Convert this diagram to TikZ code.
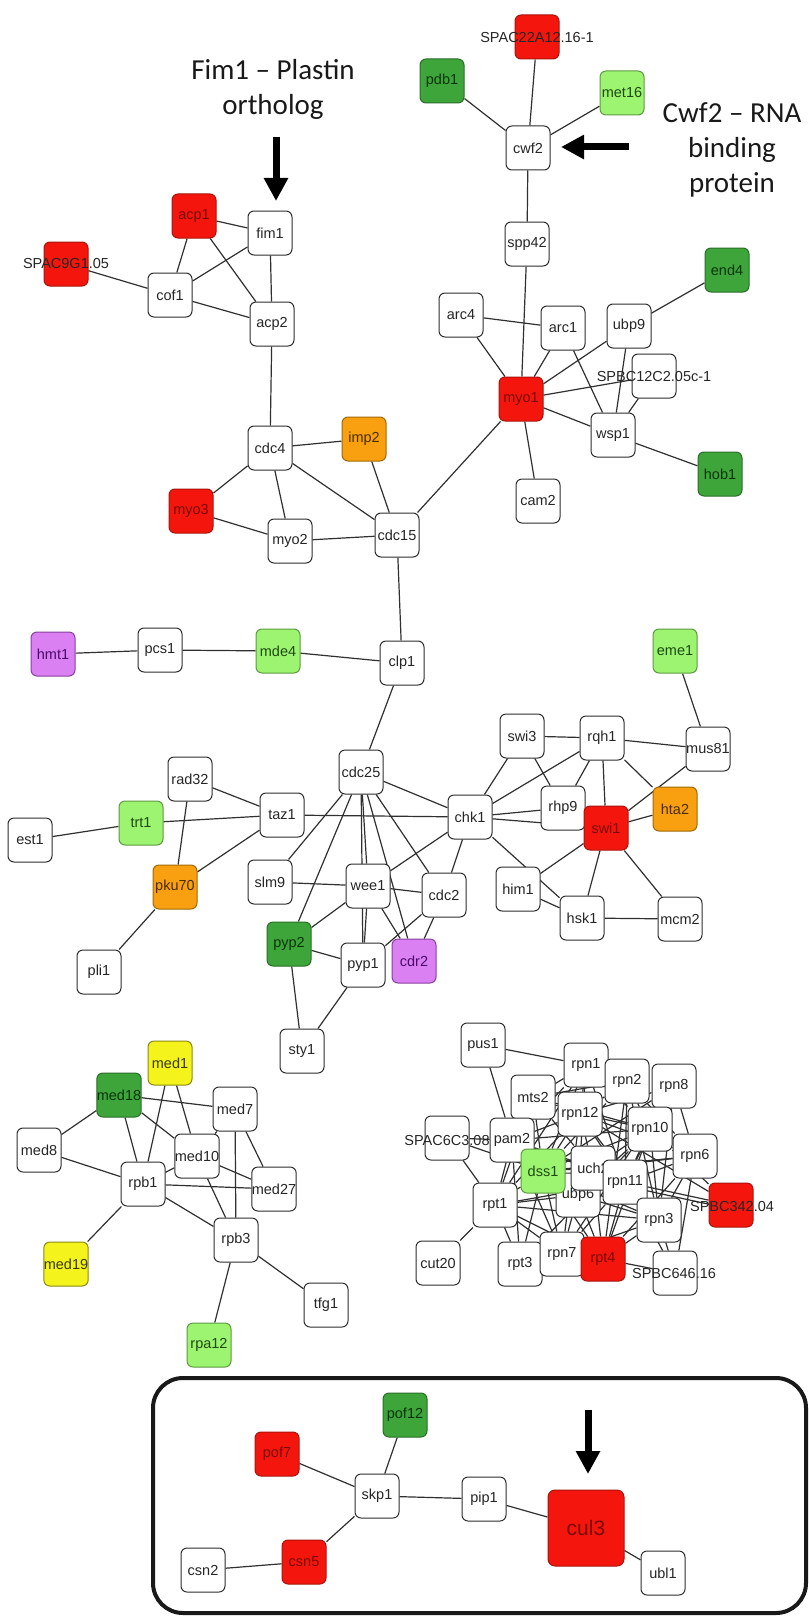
\documentclass[tikz,border=0pt]{standalone}
\usepackage{fontspec}
\setmainfont{Liberation Sans}
\newfontfamily\annfont{Carlito}
\usetikzlibrary{arrows.meta}
\pgfdeclarelayer{bgzero}
\pgfdeclarelayer{edgelayer}
\pgfsetlayers{bgzero,edgelayer,main}
\definecolor{ndline}{HTML}{2E2E2E}
\definecolor{edgec}{HTML}{303030}
\definecolor{cR}{HTML}{F4160C}
\definecolor{cRd}{HTML}{A8140C}
\definecolor{cRt}{HTML}{7A0A05}
\definecolor{cDG}{HTML}{3DA53A}
\definecolor{cDGd}{HTML}{2B6E29}
\definecolor{cDGt}{HTML}{0C340B}
\definecolor{cLG}{HTML}{9CF470}
\definecolor{cLGd}{HTML}{5E9A40}
\definecolor{cLGt}{HTML}{1F4A12}
\definecolor{cOR}{HTML}{F8A010}
\definecolor{cORd}{HTML}{A06A08}
\definecolor{cORt}{HTML}{4A2C00}
\definecolor{cPU}{HTML}{DA80F2}
\definecolor{cPUd}{HTML}{8A40A0}
\definecolor{cPUt}{HTML}{4A0A6A}
\definecolor{cYE}{HTML}{F4F41C}
\definecolor{cYEd}{HTML}{8A8A12}
\definecolor{cYEt}{HTML}{3A3A00}
\newcommand\nlab{\fontsize{14.5}{16}\selectfont}
\newcommand\annsz{\annfont\fontsize{29}{35}\selectfont}
\tikzset{
  base/.style={draw=ndline, rounded corners=6pt, minimum width=44pt, minimum height=44pt,
    inner sep=0pt, font=\nlab, line width=1pt, fill=white, text=black!85},
  wn/.style={base},
  rn/.style={base, fill=cR, draw=cRd, text=cRt},
  dg/.style={base, fill=cDG, draw=cDGd, text=cDGt},
  lg/.style={base, fill=cLG, draw=cLGd, text=cLGt},
  orn/.style={base, fill=cOR, draw=cORd, text=cORt},
  pu/.style={base, fill=cPU, draw=cPUd, text=cPUt},
  ye/.style={base, fill=cYE, draw=cYEd, text=cYEt},
  lab/.style={font=\nlab, text=black!85, inner sep=0pt},
  ed/.style={draw=edgec, line width=1.2pt},
  ann/.style={font=\annsz, align=center, text=black!90, inner sep=0pt},
  bigarrow/.style={line width=7pt, -{Triangle[width=23pt,length=23pt]}, black},
  boxline/.style={draw=black!90, line width=4pt, rounded corners=30pt}
}
\begin{document}
\begin{tikzpicture}[x=1pt,y=-1pt]
\begin{pgfonlayer}{bgzero}
\fill[white] (0,0) rectangle (808,1624);
\end{pgfonlayer}
\useasboundingbox (0,0) rectangle (808,1624);

% ---- annotations ----
\node[ann] (fimtxt) at (273,89) {Fim1 – Plastin\\ortholog};
\node[ann] (cwftxt) at (732,150) {Cwf2 – RNA\\binding\\protein};
\coordinate (fa1) at (276,137); \coordinate (fa2) at (276,201);
\draw[bigarrow] (fa1) -- (fa2);
\coordinate (ca1) at (629,147); \coordinate (ca2) at (561,147);
\draw[bigarrow] (ca1) -- (ca2);

% ---- top-left cluster ----
\node[rn] (acp1) at (194,216) {acp1};
\node[wn] (fim1) at (270,233) {fim1};
\node[rn] (spac9) at (66,264) {};
\node[lab] (spac9l) at (66,264) {SPAC9G1.05};
\node[wn] (cof1) at (170,295) {cof1};
\node[wn] (acp2) at (272,324) {acp2};
\node[wn] (cdc4) at (270,448) {cdc4};
\node[orn] (imp2) at (364,439) {imp2};
\node[rn] (myo3) at (191,511) {myo3};
\node[wn] (myo2) at (290,541) {myo2};
\node[wn] (cdc15) at (397,535) {cdc15};

% ---- top-right cluster ----
\node[rn] (spac22) at (537,37) {};
\node[lab] (spac22l) at (537,38) {SPAC22A12.16-1};
\node[dg] (pdb1) at (442,81) {pdb1};
\node[lg] (met16) at (622,93) {met16};
\node[wn] (cwf2) at (528,148) {cwf2};
\node[wn] (spp42) at (527,244) {spp42};
\node[dg] (end4) at (727,270) {end4};
\node[wn] (arc4) at (461,315) {arc4};
\node[wn] (arc1) at (563,328) {arc1};
\node[wn] (ubp9) at (629,326) {ubp9};
\node[wn] (spbc12) at (654,376) {};
\node[lab] (spbc12l) at (654,377) {SPBC12C2.05c-1};
\node[rn] (myo1) at (521,399) {myo1};
\node[wn] (wsp1) at (613,435) {wsp1};
\node[dg] (hob1) at (720,474) {hob1};
\node[wn] (cam2) at (538,501) {cam2};

% ---- middle ----
\node[wn] (clp1) at (402,663) {clp1};
\node[pu] (hmt1) at (53,654) {hmt1};
\node[wn] (pcs1) at (160,650) {pcs1};
\node[lg] (mde4) at (278,651) {mde4};
\node[lg] (eme1) at (675,651) {eme1};
\node[wn] (swi3) at (522,736) {swi3};
\node[wn] (rqh1) at (602,738) {rqh1};
\node[wn] (mus81) at (708,749) {mus81};
\node[wn] (rad32) at (190,779) {rad32};
\node[wn] (cdc25) at (361,772) {cdc25};
\node[wn] (taz1) at (282,815) {taz1};
\node[wn] (chk1) at (470,817) {chk1};
\node[wn] (rhp9) at (563,808) {rhp9};
\node[rn] (swi1) at (606,828) {swi1};
\node[orn] (hta2) at (675,809) {hta2};
\node[lg] (trt1) at (141,823) {trt1};
\node[wn] (est1) at (30,840) {est1};
\node[orn] (pku70) at (175,887) {pku70};
\node[wn] (slm9) at (270,882) {slm9};
\node[wn] (wee1) at (368,886) {wee1};
\node[wn] (cdc2) at (444,895) {cdc2};
\node[wn] (him1) at (518,889) {him1};
\node[wn] (hsk1) at (582,918) {hsk1};
\node[wn] (mcm2) at (680,919) {mcm2};
\node[dg] (pyp2) at (289,944) {pyp2};
\node[wn] (pyp1) at (363,965) {pyp1};
\node[pu] (cdr2) at (414,961) {cdr2};
\node[wn] (pli1) at (99,972) {pli1};
\node[wn] (sty1) at (302,1051) {sty1};

% ---- mediator cluster ----
\node[ye] (med1) at (170,1063) {med1};
\node[dg] (med18) at (119,1095) {med18};
\node[wn] (med7) at (235,1109) {med7};
\node[wn] (med8) at (39,1150) {med8};
\node[wn] (med10) at (197,1156) {med10};
\node[wn] (rpb1) at (143,1184) {rpb1};
\node[wn] (med27) at (274,1189) {med27};
\node[wn] (rpb3) at (236,1240) {rpb3};
\node[ye] (med19) at (66,1264) {med19};
\node[wn] (tfg1) at (326,1305) {tfg1};
\node[lg] (rpa12) at (209,1345) {rpa12};

% ---- proteasome cluster ----
\node[wn] (pus1) at (483,1045) {pus1};
\node[wn] (rpn1) at (586,1065) {rpn1};
\node[wn] (rpn2) at (627,1081) {rpn2};
\node[wn] (rpn8) at (674,1086) {rpn8};
\node[wn] (mts2) at (533,1097) {mts2};
\node[wn] (rpn12) at (580,1114) {rpn12};
\node[wn] (rpn10) at (650,1129) {rpn10};
\node[wn] (spac6) at (447,1138) {};
\node[wn] (pam2) at (512,1140) {pam2};
\node[lab] (spac6l) at (447,1140) {SPAC6C3.08};
\node[wn] (rpn6) at (695,1156) {rpn6};
\node[wn] (ubp6) at (578,1195) {ubp6};
\node[lg] (dss1) at (543,1171) {dss1};
\node[wn] (uch2) at (593,1168) {uch2};
\node[wn] (rpn11) at (625,1182) {rpn11};
\node[rn] (spbc342) at (731,1205) {};
\node[lab] (spbc342l) at (732,1206) {SPBC342.04};
\node[wn] (rpt1) at (495,1205) {rpt1};
\node[wn] (rpn3) at (659,1220) {rpn3};
\node[wn] (cut20) at (438,1263) {cut20};
\node[wn] (rpt3) at (520,1264) {rpt3};
\node[wn] (rpn7) at (562,1254) {rpn7};
\node[rn] (rpt4) at (603,1259) {rpt4};
\node[wn] (spbc646) at (675,1273) {};
\node[lab] (spbc646l) at (674,1273) {SPBC646.16};

% ---- bottom box ----
\draw[boxline] (153,1378) rectangle (806,1613);
\node[dg] (pof12) at (405,1415) {pof12};
\node[rn] (pof7) at (277,1454) {pof7};
\node[wn] (skp1) at (377,1496) {skp1};
\node[wn] (pip1) at (484,1499) {pip1};
\node[rn, minimum width=76pt, minimum height=76pt, rounded corners=7pt, font=\fontsize{21}{24}\selectfont] (cul3) at (586,1528) {cul3};
\node[wn] (ubl1) at (663,1573) {ubl1};
\node[wn] (csn2) at (203,1570) {csn2};
\node[rn] (csn5) at (304,1562) {csn5};
\coordinate (ua1) at (588,1410); \coordinate (ua2) at (588,1474);
\draw[bigarrow] (ua1) -- (ua2);

% ---- edges ----
\begin{pgfonlayer}{edgelayer}
\foreach \a/\b in {acp1/fim1, acp1/cof1, acp1/acp2, fim1/cof1, fim1/acp2, cof1/acp2, spac9/cof1, acp2/cdc4,
  cdc4/imp2, cdc4/myo3, cdc4/myo2, cdc4/cdc15, myo3/myo2, myo2/cdc15, imp2/cdc15, cdc15/myo1, cdc15/clp1,
  spac22/cwf2, pdb1/cwf2, met16/cwf2, cwf2/spp42, spp42/myo1,
  arc4/myo1, arc4/arc1, arc1/myo1, arc1/wsp1, ubp9/myo1, ubp9/wsp1, ubp9/end4, myo1/spbc12, spbc12/wsp1,
  myo1/wsp1, myo1/cam2, wsp1/hob1,
  clp1/mde4, mde4/pcs1, pcs1/hmt1, clp1/cdc25,
  cdc25/chk1, cdc25/slm9, cdc25/pyp2, cdc25/wee1, cdc25/pyp1, cdc25/cdr2, cdc25/cdc2,
  rad32/taz1, trt1/taz1, taz1/pku70, taz1/chk1, est1/trt1, rad32/pku70, pku70/pli1,
  slm9/wee1, wee1/chk1, wee1/cdc2, wee1/pyp2, wee1/pyp1, wee1/cdr2,
  cdc2/chk1, cdc2/pyp1, cdc2/cdr2, pyp2/pyp1, pyp2/sty1, pyp1/sty1,
  chk1/swi3, chk1/rqh1, chk1/rhp9, chk1/swi1, chk1/hsk1,
  swi3/rqh1, swi3/rhp9, rqh1/rhp9, rqh1/swi1, rqh1/mus81, rqh1/hta2, mus81/eme1, mus81/swi1,
  swi1/hta2, swi1/him1, swi1/hsk1, swi1/mcm2, him1/hsk1, hsk1/mcm2,
  med18/med8, med18/med7, med18/rpb1, med18/med10, med1/rpb1, med1/med10, med7/med10, med7/rpb3,
  med7/med27, med8/rpb1, med10/rpb1, med10/med27, med10/rpb3, rpb1/med27, rpb1/rpb3, rpb1/med19,
  rpb3/rpa12, rpb3/tfg1,
  pof7/skp1, pof12/skp1, skp1/pip1, skp1/csn5, csn5/csn2, pip1/cul3, cul3/ubl1}
  \draw[ed] (\a) -- (\b);
\foreach \a/\b in {rpn1/rpn12, rpn1/mts2, rpn1/rpn2, rpn1/rpn10, rpn1/dss1, rpn1/rpn11, rpn1/pam2, rpn1/ubp6, rpn1/rpt1,
  rpn2/rpn12, rpn2/rpn10, rpn2/rpn11, rpn2/rpn6, rpn2/rpn3, rpn2/dss1, rpn2/mts2, rpn2/rpt4,
  rpn8/rpn10, rpn8/rpn12, rpn8/rpn11, rpn8/rpn6, rpn8/rpn3, rpn8/rpn7, rpn8/dss1,
  mts2/rpn12, mts2/pam2, mts2/dss1, mts2/rpt1, mts2/rpn10, mts2/uch2,
  rpn12/rpn10, rpn12/pam2, rpn12/dss1, rpn12/rpn11, rpn12/uch2, rpn12/rpn6, rpn12/rpn3, rpn12/rpt1, rpn12/rpn7,
  rpn10/rpn6, rpn10/rpn11, rpn10/uch2, rpn10/dss1, rpn10/pam2, rpn10/rpt4, rpn10/rpn3, rpn10/ubp6, rpn10/rpt3,
  pam2/dss1, pam2/rpt1, pam2/rpt3, pam2/rpn11, pam2/ubp6, pam2/rpn7, pam2/uch2,
  rpn6/rpn11, rpn6/rpn3, rpn6/spbc646, rpn6/rpt4, rpn6/uch2, rpn6/dss1,
  dss1/rpt1, dss1/rpt3, dss1/rpn7, dss1/rpn11, dss1/ubp6, dss1/uch2, dss1/rpt4, dss1/rpn3,
  uch2/rpn11, uch2/ubp6, uch2/rpt4,
  rpn11/rpn3, rpn11/rpt4, rpn11/rpn7, rpn11/spbc342, rpn11/ubp6, rpn11/spbc646, rpn11/rpt1,
  ubp6/rpt1, ubp6/rpt4, ubp6/rpn3, ubp6/rpn7,
  rpt1/rpt3, rpt1/rpn7, rpt1/rpt4, rpt1/rpn3, rpt1/cut20, rpt1/spac6,
  rpn3/rpt4, rpn3/spbc646, rpn3/rpn7, rpt3/rpn7, rpt3/rpt4, rpn7/rpt4, rpt4/spbc646,
  spac6/pam2, spac6/dss1, pus1/rpn1, pus1/pam2, spbc342/rpn12, spbc342/rpn10}
  \draw[ed] (\a) -- (\b);
\draw[ed] ([yshift=-4pt]rpn11.center) -- ([yshift=-4pt]spbc342.center);
\end{pgfonlayer}
\end{tikzpicture}
\end{document}
